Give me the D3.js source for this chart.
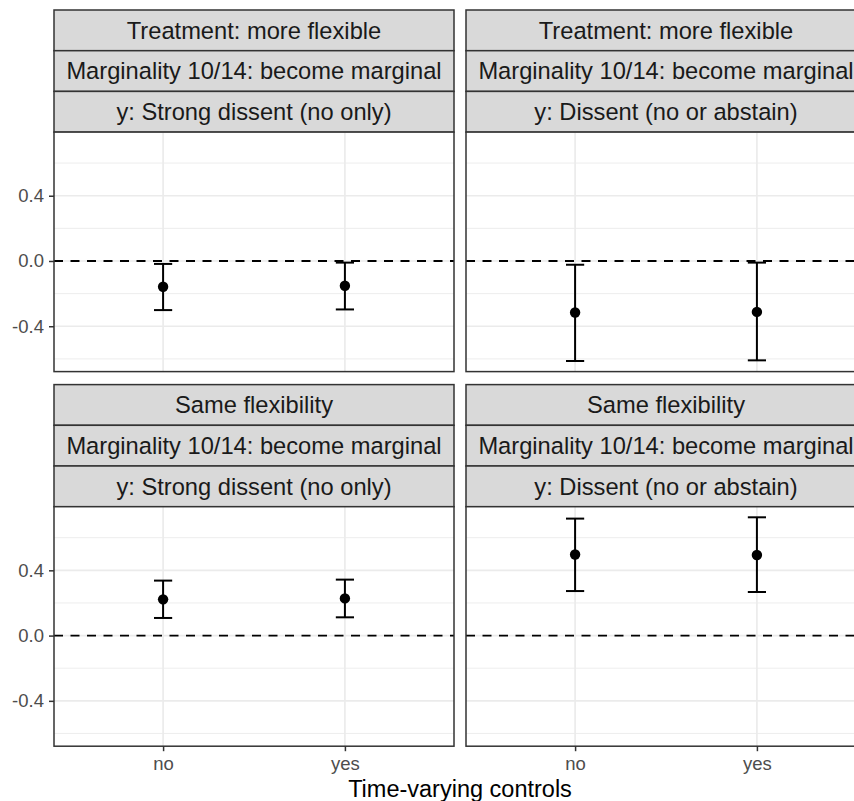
<!DOCTYPE html>
<html lang="en">
<head>
  <meta charset="UTF-8">
  <title>Marginality effects</title>
  <script src="https://d3js.org/d3.v7.min.js"></script>
  <style>
    body { margin: 0; background: #fff; }
    svg { font-family: "Liberation Sans", Arial, sans-serif; display: block; }
    .strip-text { font-size: 23.7px; fill: #1a1a1a; text-anchor: middle; }
    .tick-label { font-size: 18.5px; fill: #4d4d4d; }
    .axis-title { font-size: 23.5px; fill: #000; text-anchor: middle; }
  </style>
</head>
<body>
  <svg id="chart" width="854" height="801"></svg>

  <script>
    // facets
    const treatments = ["Treatment: more flexible", "Same flexibility"];
    const marginality = "Marginality 10/14: become marginal";
    const outcomes = ["y: Strong dissent (no only)", "y: Dissent (no or abstain)"];
    const controls = ["no", "yes"];
    const yTicks = [-0.4, 0.0, 0.4];
    const yMinor = [-0.6, -0.2, 0.2, 0.6];

    // estimates and intervals, row = treatment, col = outcome
    const estFlexStrong = [-0.158, -0.152];
    const lowFlexStrong = [-0.301, -0.297];
    const highFlexStrong = [-0.018, -0.010];

    const estFlexDissent = [-0.316, -0.312];
    const lowFlexDissent = [-0.613, -0.609];
    const highFlexDissent = [-0.023, -0.010];

    const estSameStrong = [0.222, 0.228];
    const lowSameStrong = [0.108, 0.112];
    const highSameStrong = [0.337, 0.343];

    const estSameDissent = [0.497, 0.494];
    const lowSameDissent = [0.273, 0.267];
    const highSameDissent = [0.717, 0.725];

    const panels = [
      { row: 0, col: 0, est: estFlexStrong, low: lowFlexStrong, high: highFlexStrong },
      { row: 0, col: 1, est: estFlexDissent, low: lowFlexDissent, high: highFlexDissent },
      { row: 1, col: 0, est: estSameStrong, low: lowSameStrong, high: highSameStrong },
      { row: 1, col: 1, est: estSameDissent, low: lowSameDissent, high: highSameDissent }
    ];

    const svg = d3.select("#chart");

    const marginLeft = 54, panelW = 400, gapX = 12;
    const marginTop = 10, stripH = 40.7, panelH = 239.5, gapY = 13;

    const y = d3.scaleLinear().domain([-0.678, 0.79]).range([panelH, 0]);
    const x = d3.scaleLinear().domain([0.4, 2.6]).range([0, panelW]);
    const capHalf = 0.05;
    const fmt = d => d3.format(".1f")(d).replace("\u2212", "-");

    panels.forEach(p => {
      const px = marginLeft + p.col * (panelW + gapX);
      const sy = marginTop + p.row * (3 * stripH + panelH + gapY);
      const py = sy + 3 * stripH;

      // strips
      const labels = [treatments[p.row], marginality, outcomes[p.col]];
      labels.forEach((lab, k) => {
        svg.append("rect")
          .attr("x", px).attr("y", sy + k * stripH)
          .attr("width", panelW).attr("height", stripH)
          .attr("fill", "#d9d9d9").attr("stroke", "#333").attr("stroke-width", 1.5);
        svg.append("text")
          .attr("class", "strip-text")
          .attr("x", px + panelW / 2)
          .attr("y", sy + k * stripH + stripH / 2)
          .attr("dy", "0.35em")
          .text(lab);
      });

      const g = svg.append("g").attr("transform", `translate(${px},${py})`);

      g.append("rect").attr("width", panelW).attr("height", panelH).attr("fill", "#fff");

      // grid
      g.selectAll(".minor").data(yMinor).join("line")
        .attr("x1", 0).attr("x2", panelW)
        .attr("y1", d => y(d)).attr("y2", d => y(d))
        .attr("stroke", "#ebebeb").attr("stroke-width", 0.9);
      g.selectAll(".major").data(yTicks).join("line")
        .attr("x1", 0).attr("x2", panelW)
        .attr("y1", d => y(d)).attr("y2", d => y(d))
        .attr("stroke", "#ebebeb").attr("stroke-width", 1.7);
      g.selectAll(".vmajor").data(controls).join("line")
        .attr("x1", (d, i) => x(i + 1)).attr("x2", (d, i) => x(i + 1))
        .attr("y1", 0).attr("y2", panelH)
        .attr("stroke", "#ebebeb").attr("stroke-width", 1.7);

      // reference line
      g.append("line")
        .attr("x1", 0).attr("x2", panelW)
        .attr("y1", y(0)).attr("y2", y(0))
        .attr("stroke", "#000").attr("stroke-width", 1.8)
        .attr("stroke-dasharray", "9,7.5");

      // error bars
      controls.forEach((c, i) => {
        const cx = x(i + 1);
        const x0 = x(i + 1 - capHalf), x1 = x(i + 1 + capHalf);
        const eb = g.append("g").attr("stroke", "#000").attr("stroke-width", 2);
        eb.append("line").attr("x1", cx).attr("x2", cx).attr("y1", y(p.low[i])).attr("y2", y(p.high[i]));
        eb.append("line").attr("x1", x0).attr("x2", x1).attr("y1", y(p.low[i])).attr("y2", y(p.low[i]));
        eb.append("line").attr("x1", x0).attr("x2", x1).attr("y1", y(p.high[i])).attr("y2", y(p.high[i]));
        g.append("circle").attr("cx", cx).attr("cy", y(p.est[i])).attr("r", 5.2).attr("fill", "#000");
      });

      // border
      g.append("rect").attr("width", panelW).attr("height", panelH)
        .attr("fill", "none").attr("stroke", "#333").attr("stroke-width", 1.5);

      // y axis on left column
      if (p.col === 0) {
        const ya = g.append("g").call(d3.axisLeft(y).tickValues(yTicks).tickSize(5).tickPadding(5)
          .tickFormat(fmt));
        ya.select(".domain").remove();
        ya.selectAll(".tick line").attr("stroke", "#333").attr("stroke-width", 1.5);
        ya.selectAll(".tick text").attr("class", "tick-label").attr("font-family", null).attr("font-size", null);
      }

      // x axis on bottom row
      if (p.row === 1) {
        const xa = g.append("g").attr("transform", `translate(0,${panelH})`)
          .call(d3.axisBottom(x).tickValues([1, 2]).tickSize(5).tickPadding(6)
            .tickFormat(d => controls[d - 1]));
        xa.select(".domain").remove();
        xa.selectAll(".tick line").attr("stroke", "#333").attr("stroke-width", 1.5);
        xa.selectAll(".tick text").attr("class", "tick-label").attr("font-family", null).attr("font-size", null);
      }
    });

    svg.append("text")
      .attr("class", "axis-title")
      .attr("x", marginLeft + (2 * panelW + gapX) / 2)
      .attr("y", 797)
      .text("Time-varying controls");
  </script>
</body>
</html>
